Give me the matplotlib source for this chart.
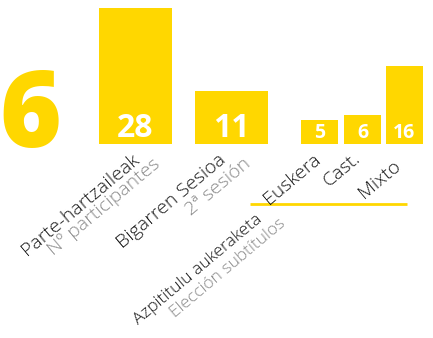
import matplotlib

matplotlib.use("Agg")
import matplotlib.pyplot as plt

# data
big_number = "6"
bar_values = [28, 11, 5, 6, 16]
main_labels = ["Parte-hartzaileak", "Bigarren Sesioa", "Azpititulu aukeraketa"]
sub_labels = ["Nº participantes", "2ª sesión", "Elección subtítulos"]
lang_labels = ["Euskera", "Cast.", "Mixto"]

YELLOW = "#FFD700"
GREY = "#8c8c8c"
DARK = "#1a1a1a"
W, H = 433, 338
ROT = 40

plt.rcParams["font.family"] = ["Open Sans", "DejaVu Sans"]

fig = plt.figure(figsize=(W / 100, H / 100), dpi=100)

# bar axes: baseline at y=144px, top (value 28) at y=8px
ax = fig.add_axes([0, 1 - 144 / H, 1, 136 / H])
ax.set_xlim(0, W)
ax.set_ylim(0, max(bar_values))
ax.axis("off")

centers = [135.5, 231.5, 319.5, 362.5, 404.5]
widths = [73, 73, 37, 37, 37]
ax.bar(centers, bar_values, width=widths, color=YELLOW, linewidth=0)
for i, (c, v) in enumerate(zip(centers, bar_values)):
    big = i < 2
    ax.annotate(str(v), (c, 0), xytext=(0, 5 if big else 4), textcoords="offset points",
                ha="center", va="baseline", color="white", fontweight="bold",
                fontsize=23 if big else 14)

# overlay in pixel coordinates for the labels
ov = fig.add_axes([0, 0, 1, 1])
ov.set_xlim(0, W)
ov.set_ylim(H, 0)
ov.axis("off")

ov.text(-1, 147, big_number, color=YELLOW, fontsize=76, fontweight="heavy",
        ha="left", va="baseline")

# (text, colour, size, top-right anchor in px)
labels = [
    (main_labels[0], DARK, 14, (131, 150)),
    (sub_labels[0], GREY, 14, (152, 155)),
    (main_labels[1], DARK, 14, (218, 151)),
    (sub_labels[1], GREY, 14, (243, 154)),
    (main_labels[2], DARK, 12.5, (255, 211)),
    (sub_labels[2], GREY, 12.5, (278, 216)),
    (lang_labels[0], DARK, 14, (313, 150)),
    (lang_labels[1], DARK, 14, (352, 149)),
    (lang_labels[2], DARK, 14, (393, 157)),
]
for txt, col, size, (x, y) in labels:
    ov.text(x, y, txt, rotation=ROT, rotation_mode="anchor", ha="right", va="top",
            color=col, fontsize=size, fontweight="light")

ov.plot([250, 407], [204, 204], color=YELLOW, linewidth=2, solid_capstyle="butt")

fig.savefig("out.png", dpi=100)
